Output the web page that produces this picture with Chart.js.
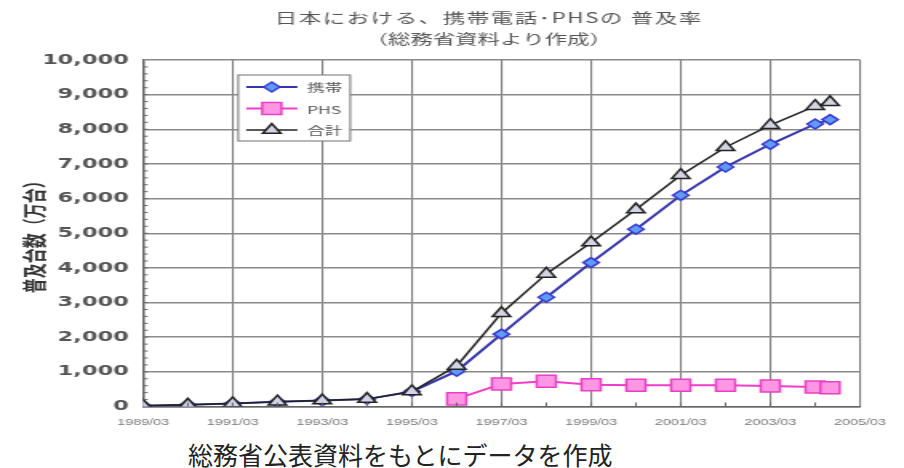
<!DOCTYPE html>
<html>
<head>
<meta charset="utf-8">
<script src="https://cdn.jsdelivr.net/npm/chart.js@4.4.1/dist/chart.umd.min.js"></script>
<style>
  body { margin: 0; background: #fff; width: 904px; height: 468px; overflow: hidden; position: relative; }
  #c { position: absolute; left: 0; top: 0; transform: scaleX(1.6); transform-origin: 0 0; }
  #note { position: absolute; left: 188px; top: 442px; font: 25px "Noto Sans CJK JP", sans-serif; color: #222; line-height: 1; white-space: nowrap; }
</style>
</head>
<body>
<canvas id="c" width="565" height="432"></canvas>
<div id="note">総務省公表資料をもとにデータを作成</div>
<script>
// 日付（年/月）と系列（万台）
var dates = ['1989/03', '1990/03', '1991/03', '1992/03', '1993/03', '1994/03', '1995/03', '1996/03',
             '1997/03', '1998/03', '1999/03', '2000/03', '2001/03', '2002/03', '2003/03', '2004/03', '2004/07'];
var mobile = [24, 49, 87, 138, 171, 213, 433, 1020, 2088, 3153, 4153, 5114, 6094, 6912, 7566, 8152, 8280];
var phs = [null, null, null, null, null, null, null, 220, 650, 730, 630, 610, 610, 610, 590, 560, 540];
var total = [24, 49, 87, 138, 171, 213, 433, 1171, 2691, 3827, 4732, 5685, 6676, 7481, 8119, 8666, 8780];
var seriesNames = ['携帯', 'PHS', '合計'];
var titleLines = ['日本における、携帯電話･PHSの 普及率', '（総務省資料より作成）'];
var yTitle = '普及台数（万台）';

var JP = '"Noto Sans CJK JP", sans-serif';

// 1989/03 からの月数
function months(d) {
    var p = d.split('/');
    return (parseInt(p[0]) - 1989) * 12 + (parseInt(p[1]) - 3);
}
function pts(vals) {
    return dates.map(function(d, i) { return {x: months(d), y: vals[i]}; });
}

var titlePlugin = {
    id: 'titleLines',
    afterDraw: function(chart) {
        var ctx = chart.ctx, ca = chart.chartArea;
        ctx.save();
        ctx.fillStyle = '#555';
        ctx.font = '14px ' + JP;
        ctx.textAlign = 'center';
        ctx.textBaseline = 'middle';
        var cx = (ca.left + ca.right) / 2 - 8;
        ctx.letterSpacing = '1px';
        ctx.fillText(titleLines[0], cx, 18);
        ctx.letterSpacing = '0px';
        ctx.fillText(titleLines[1], cx, 39);
        ctx.restore();
    }
};

// 軸の小目盛り
var minorTicks = {
    id: 'minorTicks',
    afterDatasetsDraw: function(chart) {
        var ctx = chart.ctx, ca = chart.chartArea, y = chart.scales.y, x = chart.scales.x;
        ctx.save();
        ctx.strokeStyle = '#666';
        ctx.lineWidth = 1;
        ctx.beginPath();
        for (var v = 200; v < 10000; v += 200) {
            var py = y.getPixelForValue(v);
            ctx.moveTo(ca.left, py);
            ctx.lineTo(ca.left + 3, py);
        }
        for (var m = 12; m < 192; m += 12) {
            var px = x.getPixelForValue(m);
            ctx.moveTo(px, ca.bottom);
            ctx.lineTo(px, ca.bottom - 4);
        }
        ctx.stroke();
        ctx.restore();
    }
};

var legendPlugin = {
    id: 'boxLegend',
    afterDraw: function(chart) {
        var ctx = chart.ctx, ca = chart.chartArea;
        var x0 = ca.left + 59.5, y0 = ca.top + 15, w = 70, h = 66;
        ctx.save();
        ctx.fillStyle = '#fff';
        ctx.fillRect(x0, y0, w, h);
        ctx.strokeStyle = '#888';
        ctx.lineWidth = 1.2;
        ctx.strokeRect(x0, y0, w, h);
        chart.data.datasets.forEach(function(ds, i) {
            var y = y0 + 12 + i * 21.5;
            ctx.strokeStyle = ds.borderColor;
            ctx.lineWidth = ds.borderWidth;
            ctx.beginPath();
            ctx.moveTo(x0 + 5, y);
            ctx.lineTo(x0 + 37, y);
            ctx.stroke();
            ctx.fillStyle = ds.pointBackgroundColor;
            ctx.strokeStyle = ds.pointBorderColor;
            ctx.lineWidth = ds.pointBorderWidth;
            Chart.helpers.drawPoint(ctx, {pointStyle: ds.pointStyle, radius: ds.pointRadius, borderWidth: ds.pointBorderWidth, rotation: 0}, x0 + 21, y);
            ctx.fillStyle = '#555';
            ctx.font = '11px ' + JP;
            ctx.textAlign = 'left';
            ctx.textBaseline = 'middle';
            ctx.fillText(ds.label, x0 + 43, y + 1);
        });
        ctx.restore();
    }
};

new Chart(document.getElementById('c'), {
    type: 'line',
    data: {
        datasets: [{
            label: seriesNames[0],
            data: pts(mobile),
            borderColor: '#3636a8',
            borderWidth: 2,
            pointStyle: 'rectRot',
            pointRadius: 5,
            pointBackgroundColor: '#5f9cf5',
            pointBorderColor: '#3a3ad0',
            pointBorderWidth: 1.5,
            order: 1
        }, {
            label: seriesNames[1],
            data: pts(phs),
            borderColor: '#f03cc8',
            borderWidth: 2,
            pointStyle: 'rect',
            pointRadius: 8.5,
            pointBackgroundColor: '#ff96e4',
            pointBorderColor: '#e840c4',
            pointBorderWidth: 1.5,
            order: 2
        }, {
            label: seriesNames[2],
            data: pts(total),
            borderColor: '#222',
            borderWidth: 1.5,
            pointStyle: 'triangle',
            pointRadius: 6.5,
            pointBackgroundColor: '#d4d4e4',
            pointBorderColor: '#222',
            pointBorderWidth: 1.5,
            order: 0
        }]
    },
    options: {
        responsive: false,
        animation: false,
        layout: { padding: { top: 60, right: 27.5, left: 0, bottom: 0 } },
        plugins: {
            legend: { display: false },
            tooltip: { enabled: false }
        },
        scales: {
            x: {
                type: 'linear',
                min: 0,
                max: 192,
                afterFit: function(s) { s.height = 25.5; },
                ticks: {
                    stepSize: 24,
                    autoSkip: false,
                    maxRotation: 0,
                    padding: 11,
                    color: '#777',
                    font: { family: '"Liberation Sans", Arial, sans-serif', size: 9 },
                    callback: function(v) { return (1989 + v / 12) + '/03'; }
                },
                grid: { color: '#7c7c7c', lineWidth: 1.1, drawTicks: false },
                border: { color: '#666', width: 1.5 }
            },
            y: {
                min: 0,
                max: 10000,
                afterFit: function(s) { s.width = 89.4; },
                ticks: {
                    stepSize: 1000,
                    padding: 9,
                    color: '#555',
                    font: { family: '"DejaVu Sans", sans-serif', size: 14, weight: 'bold' },
                    callback: function(v) { return v.toLocaleString('en-US'); }
                },
                grid: { color: '#8a8a8a', lineWidth: 1.5, drawTicks: false },
                border: { color: '#666', width: 1.5 },
                title: {
                    display: true,
                    text: yTitle,
                    color: '#333',
                    font: { family: JP, size: 15, weight: 'bold' },
                    padding: { top: 12, bottom: 0 }
                }
            }
        }
    },
    plugins: [titlePlugin, minorTicks, legendPlugin]
});
</script>
</body>
</html>
